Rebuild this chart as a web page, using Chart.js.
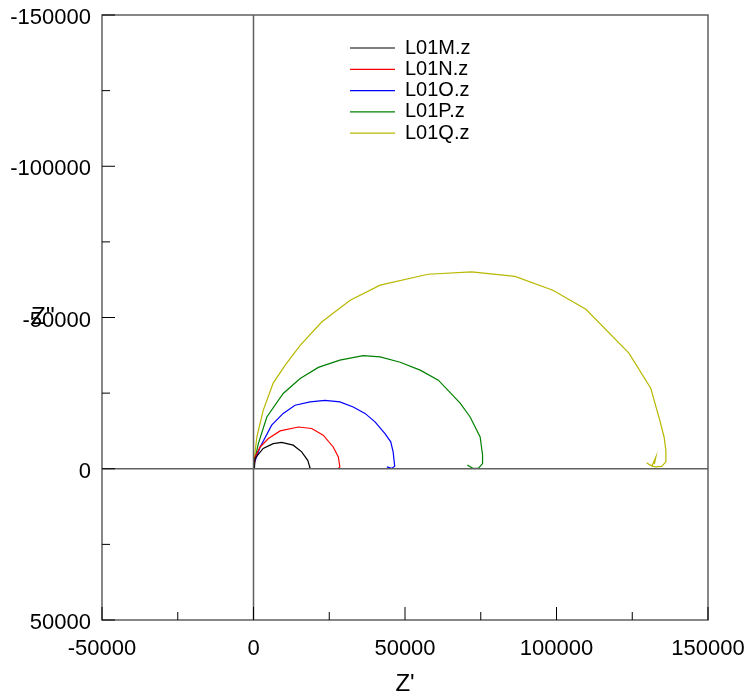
<!DOCTYPE html>
<html>
<head>
<meta charset="utf-8">
<script src="https://cdn.jsdelivr.net/npm/chart.js@4"></script>
<style>
  html, body { margin: 0; padding: 0; background: #fff; }
  #wrap { width: 748px; height: 698px; position: relative; }
</style>
</head>
<body>
<div id="wrap"><canvas id="nyquist"></canvas></div>
<script>
// Nyquist data: [Z', Z'']
const seriesNames = ['L01M.z', 'L01N.z', 'L01O.z', 'L01P.z', 'L01Q.z'];
const seriesColors = ['#000000', '#ff0000', '#0000ff', '#008000', '#b8b800'];

const dataM = [[300, -100], [500, -3400], [3200, -6700], [6500, -8300], [9300, -8700], [13100, -7800],
  [15900, -5600], [17900, -2800], [18500, -800], [18600, -100]];
const dataN = [[200, -100], [500, -3900], [2200, -7200], [4900, -10000], [8800, -12500], [14800, -13800],
  [19200, -13300], [23000, -11100], [26300, -7200], [28000, -3900], [28500, -600], [28000, -100]];
const dataO = [[200, -100], [200, -1700], [2200, -7200], [6000, -14400], [9800, -18300], [13700, -21000],
  [18700, -22100], [23600, -22600], [28500, -22100], [32900, -20400], [36800, -18300], [40100, -15500],
  [43400, -11600], [45300, -8900], [46100, -5500], [46600, -800], [45600, -100], [44000, -600]];
const dataP = [[200, -100], [200, -1800], [1600, -8300], [4400, -17100], [9800, -24900], [15400, -29800],
  [21400, -33500], [28500, -35900], [36200, -37400], [41800, -37000], [48400, -35200], [55000, -32600],
  [61000, -29300], [68200, -21700], [71500, -17100], [74800, -10500], [75600, -4500], [75600, -1700],
  [74200, -100], [72500, -100], [70600, -1200]];
const dataQ = [[200, -100], [200, -2800], [1100, -10500], [3200, -19300], [6500, -28300], [10400, -34200],
  [15400, -40800], [22500, -48500], [31900, -55700], [41800, -60700], [57600, -64300], [72000, -65100],
  [86300, -63600], [98800, -59000], [109700, -52700], [123900, -38200], [131100, -26600], [134100, -16000],
  [135500, -10500], [136100, -6100], [136100, -2300], [134700, -800], [132500, -600], [131000, -1200],
  [129800, -1900], [131500, -900], [132800, -3900], [132300, -1500]];

const xTicks = [-50000, 0, 50000, 100000, 150000];
const yTicks = [-150000, -100000, -50000, 0, 50000];

const allData = [dataM, dataN, dataO, dataP, dataQ];

const axisGray = '#606060';

// box, inward tick marks, zero lines, legend and axis titles
const framePlugin = {
  id: 'frame',
  afterDatasetsDraw(chart) {
    const ctx = chart.ctx;
    const a = chart.chartArea;
    const xs = chart.scales.x, ys = chart.scales.y;
    ctx.save();
    ctx.strokeStyle = axisGray;
    ctx.lineWidth = 1.5;
    // zero lines
    const x0 = xs.getPixelForValue(0), y0 = ys.getPixelForValue(0);
    ctx.beginPath();
    ctx.moveTo(x0, a.top); ctx.lineTo(x0, a.bottom);
    ctx.moveTo(a.left, y0); ctx.lineTo(a.right, y0);
    ctx.stroke();
    // box
    ctx.strokeRect(a.left, a.top, a.right - a.left, a.bottom - a.top);
    // ticks on bottom and left, pointing inward
    ctx.lineWidth = 1;
    ctx.strokeStyle = '#000';
    ctx.beginPath();
    for (let v = -50000; v <= 150000; v += 25000) {
      const len = (v % 50000 === 0) ? 13 : 8;
      const px = xs.getPixelForValue(v);
      ctx.moveTo(px, a.bottom); ctx.lineTo(px, a.bottom - len);
    }
    for (let v = -150000; v <= 50000; v += 25000) {
      const len = (v % 50000 === 0) ? 13 : 8;
      const py = ys.getPixelForValue(v);
      ctx.moveTo(a.left, py); ctx.lineTo(a.left + len, py);
    }
    ctx.stroke();

    // legend
    ctx.font = '20px "Liberation Sans", Arial, sans-serif';
    ctx.textBaseline = 'middle';
    ctx.textAlign = 'left';
    ctx.fillStyle = '#000';
    ctx.lineWidth = 1.2;
    seriesNames.forEach(function (name, i) {
      const ly = 48 + i * 21.3;
      ctx.strokeStyle = seriesColors[i];
      ctx.beginPath();
      ctx.moveTo(350, ly); ctx.lineTo(395, ly);
      ctx.stroke();
      ctx.fillText(name, 405, ly);
    });

    // axis titles
    ctx.font = '24px "Liberation Sans", Arial, sans-serif';
    ctx.textAlign = 'center';
    ctx.fillText("Z'", 405, 684);
    ctx.textAlign = 'left';
    ctx.fillText("Z''", 31, 317);
    ctx.restore();
  }
};

new Chart(document.getElementById('nyquist'), {
  type: 'scatter',
  data: {
    datasets: allData.map(function (d, i) {
      return {
        label: seriesNames[i],
        data: d.map(function (p) { return { x: p[0], y: p[1] }; }),
        showLine: true,
        borderColor: seriesColors[i],
        borderWidth: 1.2,
        pointRadius: 0,
        tension: 0,
        fill: false
      };
    })
  },
  options: {
    responsive: true,
    maintainAspectRatio: false,
    animation: false,
    layout: { padding: { top: 15, right: 40, left: 0, bottom: 0 } },
    plugins: { legend: { display: false }, tooltip: { enabled: false } },
    scales: {
      x: {
        type: 'linear',
        min: -50000, max: 150000,
        afterBuildTicks: function (s) { s.ticks = xTicks.map(function (v) { return { value: v }; }); },
        afterFit: function (s) { s.height = 78; s.paddingLeft = 0; s.paddingRight = 0; },
        grid: { display: false, drawTicks: false },
        border: { display: false },
        ticks: {
          padding: 16,
          maxRotation: 0,
          color: '#000',
          font: { family: '"Liberation Sans", Arial, sans-serif', size: 22 },
          callback: function (v) { return String(v); }
        }
      },
      y: {
        type: 'linear',
        reverse: true,
        min: -150000, max: 50000,
        afterBuildTicks: function (s) { s.ticks = yTicks.map(function (v) { return { value: v }; }); },
        afterFit: function (s) { s.width = 102; s.paddingTop = 0; s.paddingBottom = 0; },
        grid: { display: false, drawTicks: false },
        border: { display: false },
        ticks: {
          padding: 11,
          labelOffset: 3,
          color: '#000',
          font: { family: '"Liberation Sans", Arial, sans-serif', size: 22 },
          callback: function (v) { return String(v); }
        }
      }
    }
  },
  plugins: [framePlugin]
});
</script>
</body>
</html>
